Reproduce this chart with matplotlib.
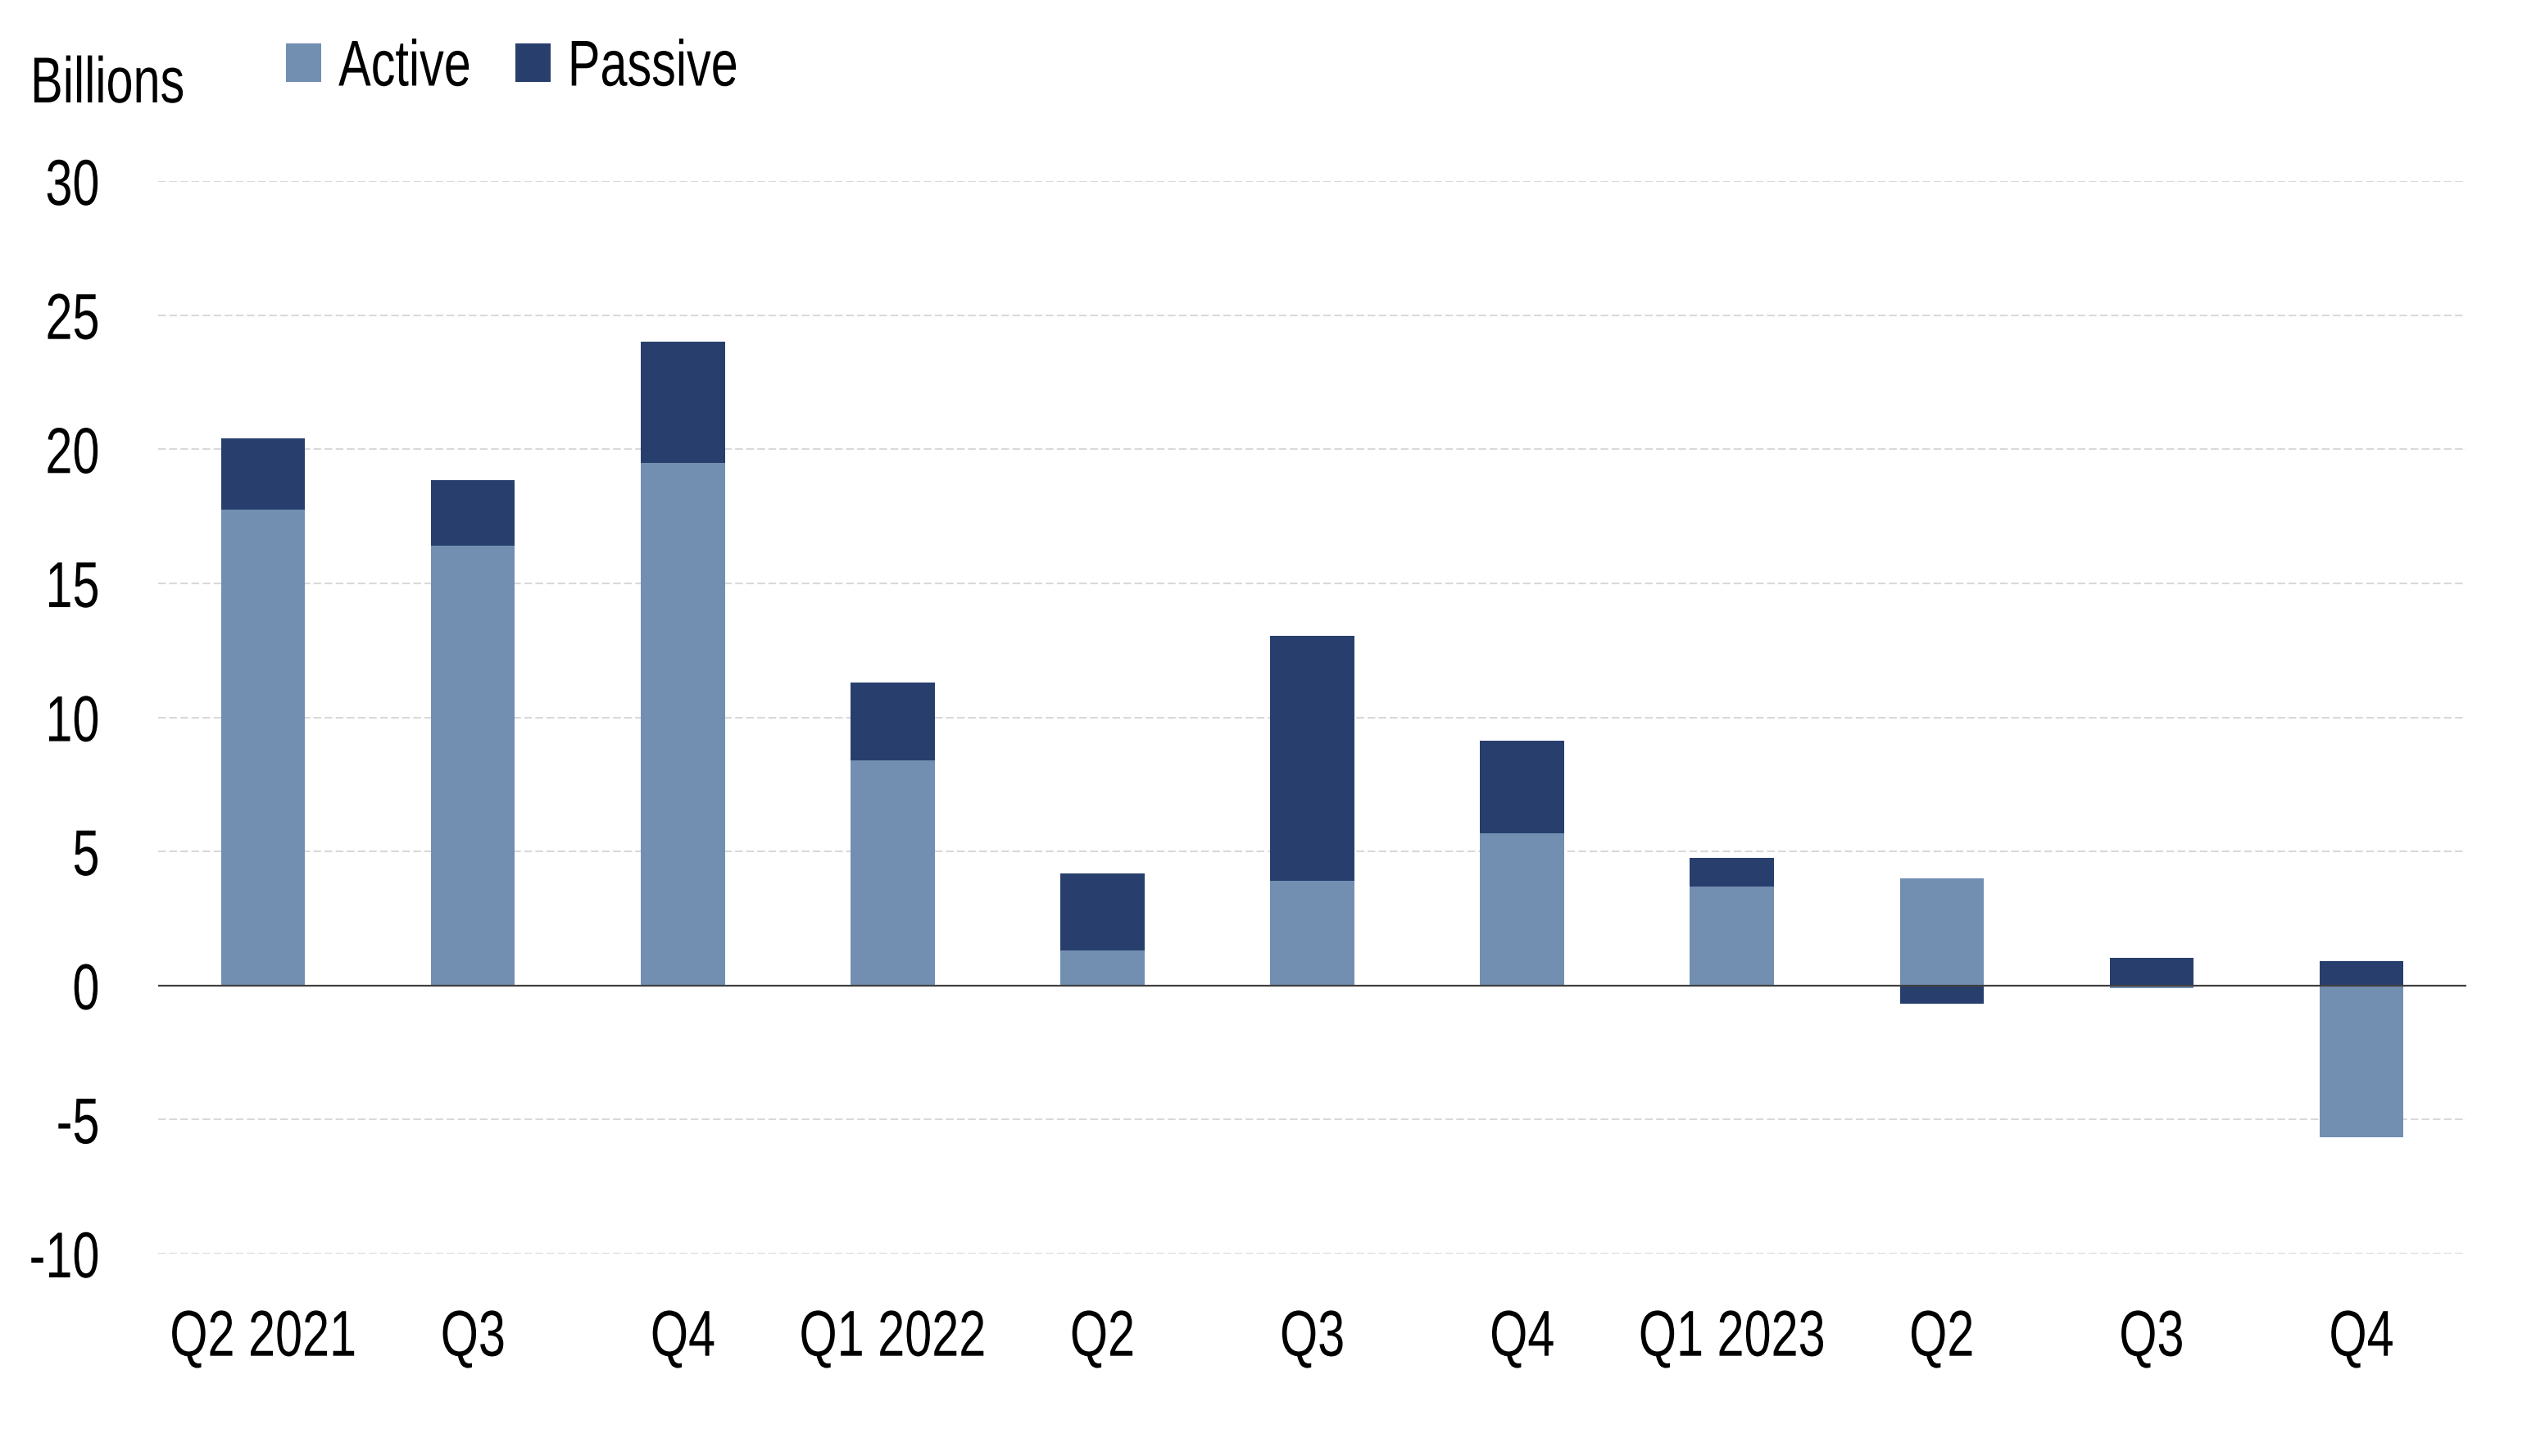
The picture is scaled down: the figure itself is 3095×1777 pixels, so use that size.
import numpy as np
import matplotlib
matplotlib.use("Agg")
import matplotlib.pyplot as plt
from matplotlib.patheffects import AbstractPathEffect
from matplotlib.transforms import Affine2D

plt.rcParams['font.family'] = ['Liberation Sans', 'DejaVu Sans']

quarters = ["Q2 2021", "Q3", "Q4", "Q1 2022", "Q2", "Q3", "Q4",
            "Q1 2023", "Q2", "Q3", "Q4"]
active = [17.75, 16.4, 19.5, 8.4, 1.3, 3.9, 5.68, 3.68, 4.01, -0.10, -5.66]
passive = [2.65, 2.45, 4.5, 2.9, 2.89, 9.15, 3.45, 1.08, -0.68, 1.04, 0.90]
yticks = [30, 25, 20, 15, 10, 5, 0, -5, -10]

c_active = '#728fb2'
c_passive = '#283f6e'
FS = 57
SX = 0.75   # squeeze factor to get a condensed look


class Squeeze(AbstractPathEffect):
    # narrows glyphs horizontally around the anchor side of the text
    def __init__(self, sx, anchor='left'):
        super().__init__()
        self.sx = sx
        self.anchor = anchor

    def draw_path(self, renderer, gc, tpath, affine, rgbFace=None):
        ext = tpath.get_extents()
        if self.anchor == 'right':
            cx = ext.x1
        elif self.anchor == 'center':
            cx = (ext.x0 + ext.x1) / 2
        else:
            cx = 0
        t = Affine2D().translate(-cx, 0).scale(self.sx, 1).translate(cx, 0) + affine
        renderer.draw_path(gc, tpath, t, rgbFace)


def stack_bottom(a, p):
    # passive sits on active only when both go the same way
    out = []
    for i in range(len(a)):
        if a[i] * p[i] > 0:
            out.append(a[i])
        else:
            out.append(0)
    return out


fig = plt.figure(figsize=(30.95, 17.77), dpi=100)
ax = fig.add_axes([0.0624, 0.139, 0.9101, 0.7366])

x = np.arange(len(quarters))
ax.bar(x, active, width=0.4, color=c_active, label='Active', zorder=2)
ax.bar(x, passive, width=0.4, bottom=stack_bottom(active, passive),
       color=c_passive, label='Passive', zorder=2)

ax.set_xlim(-0.5, len(quarters) - 0.5)
ax.set_ylim(-10, 30)
ax.set_yticks(yticks)
ax.set_yticklabels([str(v) for v in yticks])
ax.set_xticks(x)
ax.set_xticklabels(quarters)

for v in yticks:
    if v != 0:
        ax.axhline(v, color='#d9d9d9', lw=1.5, ls=(0, (4.5, 2)), zorder=1)
ax.axhline(0, color='#404040', lw=1.6, zorder=3)

for s in ax.spines.values():
    s.set_visible(False)
ax.tick_params(axis='both', length=0, labelsize=FS, colors='black')
ax.tick_params(axis='y', pad=51)
ax.tick_params(axis='x', pad=48)

for lbl in ax.get_xticklabels():
    lbl.set_path_effects([Squeeze(SX, 'center')])
for lbl in ax.get_yticklabels():
    lbl.set_path_effects([Squeeze(SX, 'right')])

t = fig.text(0.012, 1 - 125 / 1777, "Billions", fontsize=FS, va='baseline', ha='left')
t.set_path_effects([Squeeze(SX, 'left')])

leg = ax.legend(loc='center left', bbox_to_anchor=(349 / 3095, 1 - 84 / 1777),
                bbox_transform=fig.transFigure, ncol=2, frameon=False,
                fontsize=FS, handlelength=0.54, handleheight=0.53,
                handletextpad=0.27, columnspacing=0.0, borderpad=0, borderaxespad=0)
for txt in leg.get_texts():
    txt.set_path_effects([Squeeze(SX, 'left')])

fig.savefig("out.png", dpi=100)
